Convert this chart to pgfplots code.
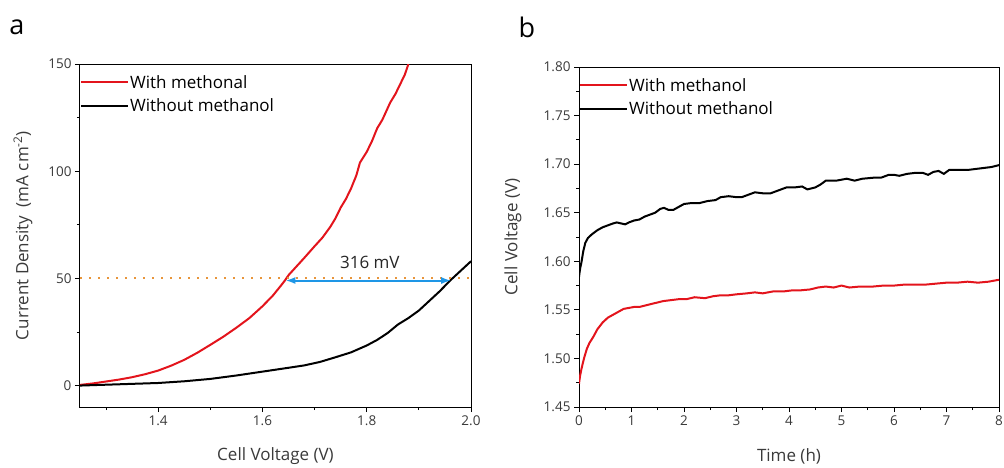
\documentclass[border=0pt]{standalone}
\usepackage{fontspec}
\setmainfont{Open Sans}
\usepackage{pgfplots}
\pgfplotsset{compat=1.18}
\usetikzlibrary{arrows.meta}
\definecolor{cred}{HTML}{E3141C}
\definecolor{corange}{HTML}{E8953A}
\definecolor{cblue}{HTML}{1E96E6}
\definecolor{ctick}{HTML}{3A3A3A}

\pgfplotsset{
  panel/.style={
    scale only axis,
    axis line style={line width=1pt},
    tick align=outside, tick pos=left,
    major tick length=5pt, minor tick length=3pt,
    every tick/.style={line width=0.9pt, black},
    tick label style={font=\fontsize{13.5}{16}\selectfont, text=ctick},
    label style={font=\fontsize{17}{20}\selectfont, text=ctick},
    /pgf/number format/assume math mode=true,
    legend style={at={(0,1)}, anchor=north west, draw=none, fill=none,
      inner sep=0pt, font=\fontsize{17}{20}\selectfont,
      row sep=7pt, yshift=-10pt, nodes={inner sep=1pt}},
    legend cell align=left,
    legend image code/.code={\draw[#1] (0pt,0pt) -- (47pt,0pt);},
    every axis plot/.append style={line width=2pt},
  }
}

\begin{document}
\begin{tikzpicture}
\useasboundingbox (0pt,0pt) rectangle (1004pt,-468pt);

\node[font=\fontsize{27}{30}\selectfont] at (17pt,-27pt) {a};
\node[font=\fontsize{27}{30}\selectfont] at (527pt,-27pt) {b};

% panel a
\begin{axis}[panel,
  at={(80pt,-407pt)}, anchor=south west,
  width=391pt, height=343pt,
  xmin=1.25, xmax=2.0, ymin=-10, ymax=150,
  xtick={1.4,1.6,1.8,2.0}, minor xtick={1.3,1.5,1.7,1.9},
  ytick={0,50,100,150}, minor ytick={25,75,125},
  xticklabel style={/pgf/number format/fixed, /pgf/number format/precision=1, /pgf/number format/fixed zerofill},
  xlabel={Cell Voltage (V)},
  ylabel={Current Density\enspace(mA cm\textsuperscript{-2})},
  xlabel style={at={(axis description cs:0.5,-0.143)}, anchor=center},
  ylabel style={at={(axis description cs:-0.146,0.5)}, anchor=center},
]
\addplot[cred] coordinates {
 (1.25,0.3)(1.275,1.0)(1.30,1.9)(1.325,2.8)(1.35,3.9)(1.375,5.3)(1.40,7.0)
 (1.425,9.3)(1.45,12.0)(1.475,15.3)(1.50,19.0)(1.525,22.8)(1.55,27.0)(1.575,31.5)
 (1.60,37.0)(1.62,42.0)(1.635,46.5)(1.643,49.0)(1.65,51.5)(1.665,55.5)(1.68,59.5)
 (1.70,65)(1.715,69)(1.73,74)(1.74,78)(1.75,83)(1.76,87)(1.77,92)(1.78,98)
 (1.787,104)(1.80,109)(1.81,114)(1.82,120)(1.83,124)(1.845,132)(1.855,136)
 (1.865,141)(1.873,145)(1.88,150)};
\addplot[black] coordinates {
 (1.25,0)(1.30,0.4)(1.35,0.8)(1.40,1.2)(1.45,2.0)(1.50,3.1)(1.55,4.7)(1.60,6.5)
 (1.65,8.3)(1.68,9.4)(1.71,11.0)(1.74,13.2)(1.77,15.5)(1.80,18.7)(1.82,21.3)
 (1.84,24.5)(1.86,28.5)(1.88,31.5)(1.90,35.0)(1.92,39.5)(1.94,44.0)(1.96,49.0)
 (1.98,53.5)(2.0,58)};
\addplot[corange, line width=2pt, dash pattern=on 2pt off 7pt, forget plot] coordinates {(1.25,50)(2.0,50)};
\legend{With methonal, Without methanol}
\draw[cblue, line width=2pt, {Latex[length=10pt,width=7pt]}-{Latex[length=10pt,width=7pt]}]
  (axis cs:1.644,49) -- (axis cs:1.962,49);
\node[font=\fontsize{17}{20}\selectfont, text=black!85] at (axis cs:1.806,57.5) {316 mV};
\end{axis}

% panel b
\begin{axis}[panel,
  at={(579pt,-407pt)}, anchor=south west,
  width=420pt, height=340pt,
  xmin=0, xmax=8, ymin=1.45, ymax=1.80,
  xtick={0,1,...,8}, minor x tick num=1,
  ytick={1.45,1.50,...,1.81}, minor y tick num=1,
  yticklabel style={/pgf/number format/fixed, /pgf/number format/precision=2, /pgf/number format/fixed zerofill},
  xlabel={Time (h)},
  ylabel={Cell Voltage (V)},
  xlabel style={at={(axis description cs:0.5,-0.144)}, anchor=center},
  ylabel style={at={(axis description cs:-0.157,0.5)}, anchor=center},
]
\addplot[cred] coordinates {
 (0,1.474)(0.02,1.482)(0.05,1.490)(0.1,1.501)(0.15,1.510)(0.2,1.516)(0.27,1.522)
 (0.35,1.530)(0.45,1.537)(0.55,1.542)(0.65,1.545)(0.75,1.548)(0.85,1.551)(0.95,1.552)
 (1.05,1.553)(1.15,1.553)(1.3,1.555)(1.45,1.557)(1.6,1.559)(1.75,1.560)(1.9,1.561)
 (2.05,1.561)(2.2,1.563)(2.4,1.562)(2.55,1.564)(2.7,1.565)(2.85,1.565)(3.0,1.566)
 (3.2,1.567)(3.35,1.568)(3.5,1.567)(3.7,1.569)(3.9,1.569)(4.05,1.570)(4.2,1.570)
 (4.4,1.571)(4.55,1.573)(4.7,1.574)(4.85,1.573)(5.0,1.575)(5.15,1.573)(5.35,1.574)
 (5.6,1.574)(5.8,1.575)(6.0,1.575)(6.2,1.576)(6.4,1.576)(6.6,1.576)(6.8,1.577)
 (7.0,1.578)(7.2,1.578)(7.4,1.579)(7.6,1.578)(7.8,1.579)(8.0,1.581)};
\addplot[black] coordinates {
 (0,1.584)(0.02,1.592)(0.05,1.600)(0.08,1.610)(0.12,1.619)(0.17,1.624)(0.25,1.628)
 (0.35,1.632)(0.45,1.635)(0.55,1.637)(0.65,1.639)(0.72,1.640)(0.80,1.639)(0.88,1.638)
 (0.95,1.640)(1.05,1.642)(1.15,1.643)(1.25,1.646)(1.35,1.648)(1.45,1.650)(1.55,1.654)
 (1.62,1.655)(1.70,1.653)(1.80,1.653)(1.90,1.656)(2.0,1.659)(2.15,1.660)(2.3,1.660)
 (2.45,1.662)(2.6,1.663)(2.7,1.666)(2.85,1.667)(3.0,1.666)(3.1,1.666)(3.25,1.669)
 (3.35,1.671)(3.5,1.670)(3.65,1.670)(3.8,1.673)(3.95,1.676)(4.1,1.676)(4.25,1.677)
 (4.35,1.674)(4.5,1.676)(4.6,1.679)(4.7,1.683)(4.9,1.683)(5.0,1.684)(5.1,1.685)
 (5.25,1.683)(5.4,1.685)(5.6,1.686)(5.75,1.686)(5.9,1.689)(6.0,1.689)(6.1,1.688)
 (6.25,1.690)(6.4,1.691)(6.55,1.691)(6.65,1.689)(6.75,1.692)(6.85,1.693)(6.95,1.690)
 (7.05,1.694)(7.2,1.694)(7.4,1.694)(7.55,1.695)(7.7,1.696)(7.85,1.697)(8.0,1.699)};
\legend{With methanol, Without methanol}
\end{axis}
\end{tikzpicture}
\end{document}
